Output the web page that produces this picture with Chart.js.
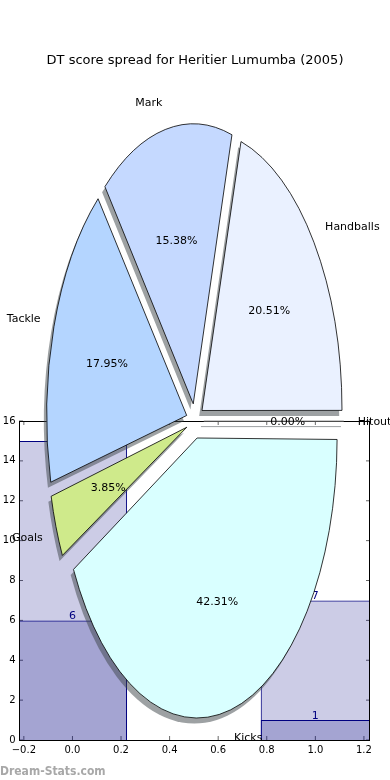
<!DOCTYPE html>
<html>
<head>
<meta charset="utf-8">
<script src="https://cdn.jsdelivr.net/npm/chart.js@4.4.1/dist/chart.umd.min.js"></script>
<style>
  html, body { margin: 0; padding: 0; background: #fff; }
  #wrap { position: relative; width: 390px; height: 780px; overflow: hidden; }
  #wrap canvas { position: absolute; left: 0; top: 0; }
</style>
</head>
<body>
<div id="wrap">
  <canvas id="bars" width="390" height="780"></canvas>
  <canvas id="pie" width="390" height="780"></canvas>
</div>
<script>
// pie data, in the clockwise order Chart.js draws it (starting at 3 o'clock)
const statNames = ['Kicks', 'Goals', 'Tackle', 'Mark', 'Handballs', 'Hitout']
const dtPoints = [33, 3, 14, 12, 16, 0]
const sliceColors = ['#d9ffff', '#cfea8b', '#b4d5ff', '#c5d9ff', '#eaf1ff', '#ffffff']

// the bar chart behind the pie
const barPositions = [0, 1]
const barTall = [15, 7]
const barShort = [6, 1]
const xTicks = [-0.2, 0, 0.2, 0.4, 0.6, 0.8, 1.0, 1.2]
const yTicks = [0, 2, 4, 6, 8, 10, 12, 14, 16]

const chartTitle = 'DT score spread for Heritier Lumumba (2005)'
const FONT = 'DejaVu Sans'
Chart.defaults.font.family = FONT

const yStretch = 2      // the pie is drawn squashed into an ellipse, twice as tall as wide
const pieRadius = 140
const explode = 35      // chart.js moves an arc by offset / 4


/* ---------- bar chart ---------- */

let barDecor = {
    id: 'barDecor',
    beforeDatasetsDraw(chart) {
        // inward tick marks on all four sides, under the see-through bars
        let {ctx, chartArea: a, scales} = chart
        ctx.save()
        ctx.strokeStyle = '#000'
        ctx.lineWidth = 0.6
        ctx.beginPath()
        scales.x.ticks.forEach(function (t) {
            let px = scales.x.getPixelForValue(t.value)
            ctx.moveTo(px, a.bottom); ctx.lineTo(px, a.bottom - 4)
            ctx.moveTo(px, a.top); ctx.lineTo(px, a.top + 4)
        })
        scales.y.ticks.forEach(function (t) {
            let py = scales.y.getPixelForValue(t.value)
            ctx.moveTo(a.left, py); ctx.lineTo(a.left + 4, py)
            ctx.moveTo(a.right, py); ctx.lineTo(a.right - 4, py)
        })
        ctx.stroke()
        ctx.restore()
    },
    afterDatasetsDraw(chart) {
        let {ctx, chartArea: a} = chart
        ctx.save()
        // value labels on top of each bar
        ctx.font = '11px "' + FONT + '"'
        ctx.fillStyle = '#000080'
        ctx.textAlign = 'center'
        ctx.textBaseline = 'alphabetic'
        chart.data.datasets.forEach(function (ds, d) {
            chart.getDatasetMeta(d).data.forEach(function (bar, i) {
                ctx.fillText(String(ds.data[i].y), bar.x, bar.y - 1)
            })
        })
        // axes frame
        ctx.strokeStyle = '#000'
        ctx.lineWidth = 1
        ctx.strokeRect(Math.round(a.left) + 0.5, Math.round(a.top) + 0.5,
            Math.round(a.right - a.left) - 1, Math.round(a.bottom - a.top))
        ctx.restore()
    },
    afterDraw(chart) {
        let ctx = chart.ctx
        ctx.save()
        ctx.font = 'bold 12px "DejaVu Sans Condensed", "' + FONT + '"'
        ctx.fillStyle = '#a8a8a8'
        ctx.textAlign = 'left'
        ctx.textBaseline = 'alphabetic'
        ctx.fillText('Dream-Stats.com', 0, 775)
        ctx.restore()
    }
}

let tickFont = {family: FONT, size: 10}

let barChart = new Chart(document.getElementById('bars'), {
    type: 'bar',
    data: {
        datasets: [
            {
                data: barPositions.map((x, i) => ({x: x, y: barTall[i]})),
                xAxisID: 'xb',
                backgroundColor: 'rgba(0, 0, 128, 0.2)',
                borderColor: '#000080',
                borderWidth: 1
            },
            {
                data: barPositions.map((x, i) => ({x: x, y: barShort[i]})),
                xAxisID: 'xb',
                backgroundColor: 'rgba(0, 0, 128, 0.2)',
                borderColor: '#000080',
                borderWidth: 1
            }
        ]
    },
    options: {
        responsive: false,
        animation: false,
        events: [],
        layout: {padding: {top: 421, right: 20, left: 0, bottom: 0}},
        datasets: {bar: {grouped: false, barPercentage: 0.45, categoryPercentage: 1}},
        scales: {
            x: {
                type: 'linear', position: 'bottom', min: -0.22, max: 1.225,
                bounds: 'data', offset: false,
                grid: {display: false, drawTicks: false}, border: {display: false},
                afterBuildTicks: s => { s.ticks = xTicks.map(v => ({value: v})) },
                ticks: {
                    padding: 4, font: tickFont, color: '#000',
                    maxRotation: 0, autoSkip: false,
                    callback: v => v.toFixed(1).replace('-', '\u2212')
                },
                afterFit: s => { s.height = 40 }
            },
            // hidden axis the bars sit on, one tick per bar so bar widths come from bar spacing
            xb: {
                type: 'linear', display: false, min: -0.22, max: 1.225,
                bounds: 'data', offset: false,
                afterBuildTicks: s => { s.ticks = barPositions.map(v => ({value: v})) }
            },
            y: {
                min: 0, max: 16,
                grid: {display: false, drawTicks: false}, border: {display: false},
                afterBuildTicks: s => { s.ticks = yTicks.map(v => ({value: v})) },
                ticks: {padding: 3.5, font: tickFont, color: '#000'},
                afterFit: s => { s.width = 19 }
            }
        },
        plugins: {legend: {display: false}, tooltip: {enabled: false}}
    },
    plugins: [barDecor]
})


/* ---------- pie on top ---------- */

let ellipsePie = {
    id: 'ellipsePie',
    afterDatasetUpdate(chart, args) {
        // chart.js grows the radius of small exploded arcs, undo that so all wedges match
        let meta = args.meta
        meta.data.forEach(function (arc) {
            let c = arc.endAngle - arc.startAngle
            let fix = 1 - Math.sin(Math.min(Math.PI, c))
            arc.outerRadius = meta.controller.outerRadius - (arc.options.offset / 4) * fix
        })
    },
    beforeDatasetsDraw(chart) {
        let ctx = chart.ctx
        let c = chart.getDatasetMeta(0).data[0]
        ctx.save()
        let base = ctx.getTransform()
        ctx.translate(c.x, c.y)
        ctx.scale(1, yStretch)
        ctx.translate(-c.x, -c.y)
        // matplotlib style drop shadow (fills only)
        ctx.shadowColor = 'rgba(60, 68, 72, 0.5)'
        ctx.shadowOffsetX = -2.8
        ctx.shadowOffsetY = 5.6
        ctx.shadowBlur = 0
        // keep outlines one pixel thick even though the drawing is stretched
        let stroke = ctx.stroke
        ctx.stroke = function () {
            this.save()
            this.setTransform(base)
            if (!chart.$strokeShadow) this.shadowColor = 'rgba(0,0,0,0)'
            stroke.apply(this, arguments)
            this.restore()
        }
    },
    afterDatasetsDraw(chart) {
        let ctx = chart.ctx
        let meta = chart.getDatasetMeta(0)
        let R = meta.controller.outerRadius

        // a zero wedge is only a line
        chart.$strokeShadow = true
        meta.data.forEach(function (arc) {
            if (arc.endAngle - arc.startAngle > 0) return
            let m = arc.endAngle, sh = arc.options.offset / 4
            let cx = arc.x + Math.cos(m) * sh, cy = arc.y + Math.sin(m) * sh
            ctx.beginPath()
            ctx.moveTo(cx, cy)
            ctx.lineTo(cx + Math.cos(m) * R, cy + Math.sin(m) * R)
            ctx.strokeStyle = '#999'
            ctx.lineWidth = 1
            ctx.stroke()
        })
        chart.$strokeShadow = false
        ctx.restore()
        delete ctx.stroke

        // slice names outside, percentages inside
        let total = dtPoints.reduce((s, v) => s + v, 0)
        ctx.save()
        ctx.font = '11px "' + FONT + '"'
        ctx.fillStyle = '#000'
        ctx.textBaseline = 'middle'
        meta.data.forEach(function (arc, i) {
            let m = (arc.startAngle + arc.endAngle) / 2
            let sh = arc.options.offset / 4
            let at = k => [arc.x + Math.cos(m) * (sh + R * k), arc.y + Math.sin(m) * (sh + R * k) * yStretch + 1.5]
            let p = at(1.1)
            ctx.textAlign = Math.cos(m) > 0 ? 'left' : 'right'
            ctx.fillText(chart.data.labels[i], p[0], p[1])
            p = at(0.6)
            ctx.textAlign = 'center'
            ctx.fillText((dtPoints[i] / total * 100).toFixed(2) + '%', p[0], p[1])
        })
        ctx.restore()
    }
}

let pieChart = new Chart(document.getElementById('pie'), {
    type: 'pie',
    data: {
        labels: statNames,
        datasets: [{
            data: dtPoints,
            backgroundColor: sliceColors,
            borderColor: '#000',
            borderWidth: 0.8,
            offset: explode
        }]
    },
    options: {
        responsive: false,
        animation: false,
        events: [],
        rotation: 90,
        radius: pieRadius,
        layout: {padding: {bottom: 7.6}},
        plugins: {
            legend: {display: false},
            tooltip: {enabled: false},
            title: {
                display: true,
                text: chartTitle,
                color: '#000',
                font: {family: FONT, size: 13, weight: 'normal'},
                padding: {top: 53, bottom: 1}
            }
        }
    },
    plugins: [ellipsePie]
})
</script>
</body>
</html>
